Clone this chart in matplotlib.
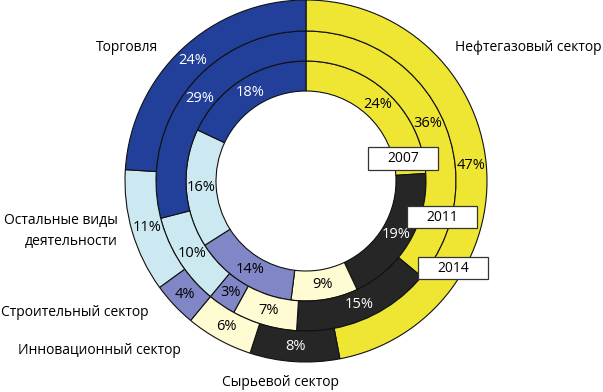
import matplotlib
matplotlib.use("Agg")
import matplotlib.pyplot as plt
from matplotlib.patches import Rectangle
import numpy as np

plt.rcParams['font.family'] = ['Open Sans', 'DejaVu Sans']

categories = ["Нефтегазовый сектор", "Сырьевой сектор", "Инновационный сектор",
              "Строительный сектор", "Остальные виды\nдеятельности", "Торговля"]
years = ["2007", "2011", "2014"]
share_2007 = [24, 19, 9, 14, 16, 18]
share_2011 = [36, 15, 7, 3, 10, 29]
share_2014 = [47, 8, 6, 4, 11, 24]

colors = ["#EFE634", "#262626", "#FFFBD2", "#8086C6", "#CCE9F2", "#22409A"]
text_colors = ["black", "white", "black", "black", "black", "white"]

W, H = 603, 392
cx, cy = 306, 181
fig = plt.figure(figsize=(W / 100, H / 100), dpi=100)
ax = fig.add_axes([0, 0, 1, 1])

radii = [120, 150, 181]  # outer radius of each ring: 2007, 2011, 2014
widths = [30, 30, 31]
series = [share_2007, share_2011, share_2014]

for vals, r, w in zip(series, radii, widths):
    wedges, _ = ax.pie(vals, radius=r, colors=colors, startangle=90, counterclock=False,
                       wedgeprops=dict(width=w, edgecolor='#111111', linewidth=0.8))
    total = sum(vals)
    ang = 90.0
    rm = r - w / 2
    for v, tc in zip(vals, text_colors):
        span = v / total * 360
        mid = np.deg2rad(ang - span / 2)
        ax.text(rm * np.cos(mid), rm * np.sin(mid), f"{v}%", ha='center', va='center',
                fontsize=10.5, color=tc)
        ang -= span

ax.set_xlim(-cx, W - cx)
ax.set_ylim(-(H - cy), cy)
ax.set_aspect('equal')
ax.axis('off')

# category labels (pixel positions of the reference)
cat_pos = [(528, 47, 'center'), (280, 382, 'center'), (99, 351, 'center'),
           (75, 313, 'center'), (118, 231, 'right'), (127, 47, 'center')]
for name, (px, py, ha) in zip(categories, cat_pos):
    ax.text(px - cx, cy - py, name, ha=ha, va='center', fontsize=10,
            color='black', linespacing=1.5, multialignment='right')

# year boxes
year_boxes = [(368, 147, 70, 23), (407, 206, 70, 22), (418, 257, 70, 22)]
for yr, (bx, by, bw, bh) in zip(years, year_boxes):
    ax.add_patch(Rectangle((bx - cx, cy - by - bh), bw, bh, facecolor='white',
                           edgecolor='#333333', linewidth=0.9, zorder=5))
    ax.text(bx + bw / 2 - cx, cy - by - bh / 2, yr, ha='center', va='center',
            fontsize=10, zorder=6)

fig.savefig("out.png", dpi=100)
